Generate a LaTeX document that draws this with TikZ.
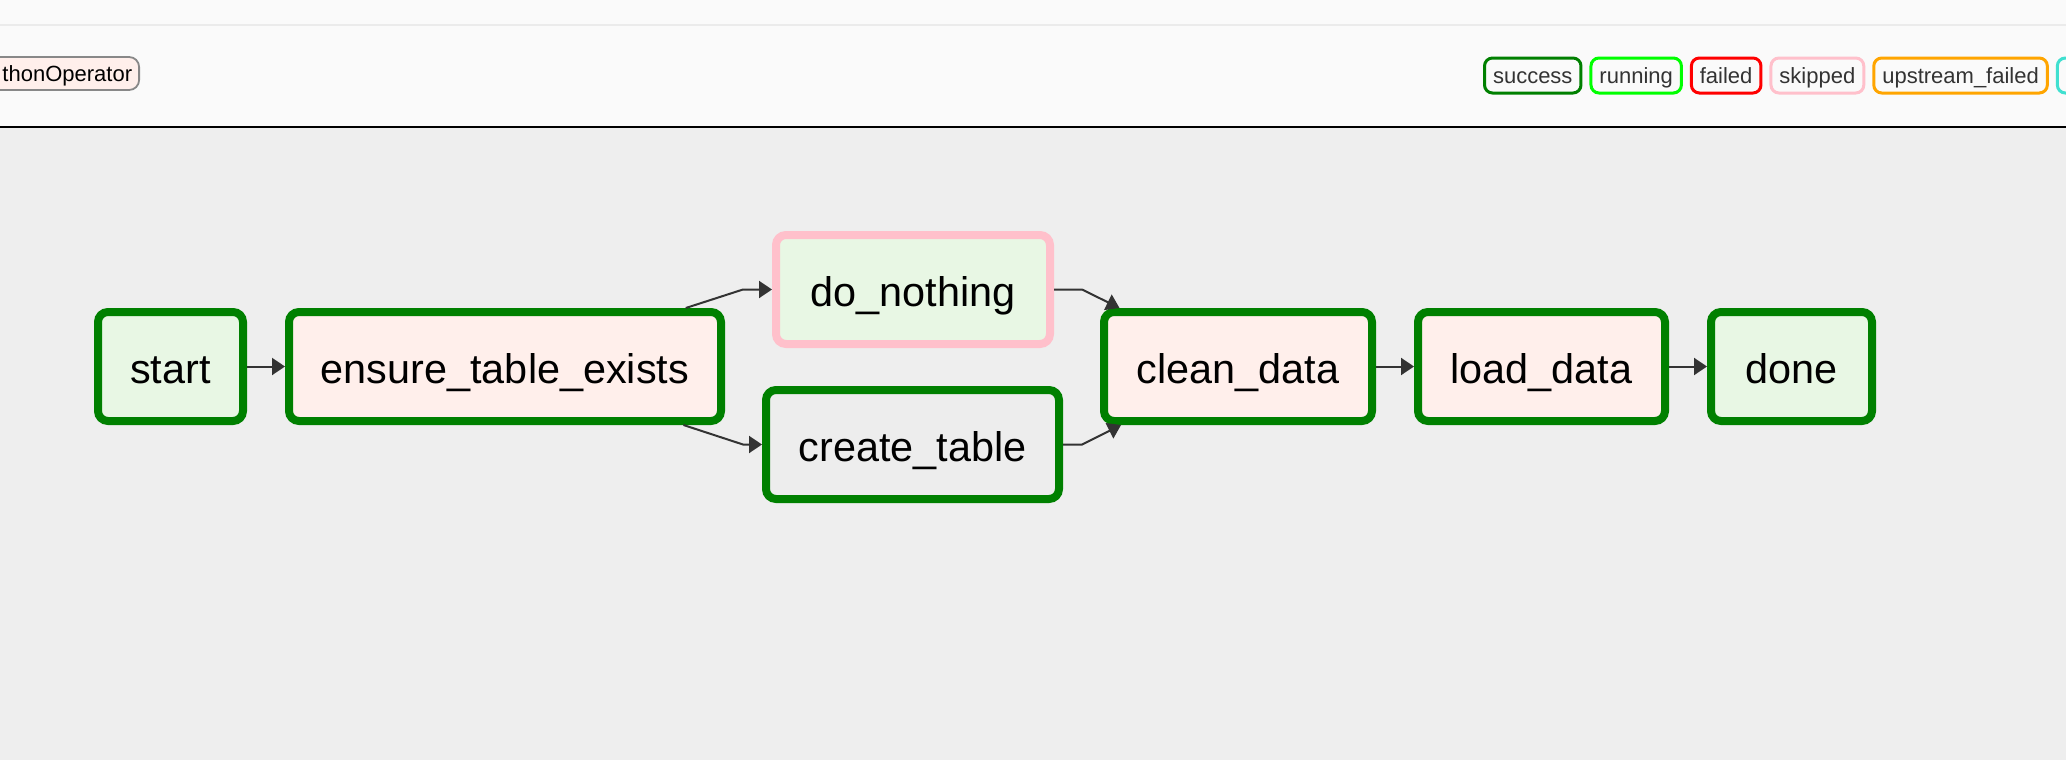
\documentclass[tikz,border=0pt]{standalone}
\usepackage{fontspec}
\setmainfont{Liberation Sans}
\usetikzlibrary{arrows.meta}
\usetikzlibrary{positioning}

\definecolor{headerbg}{HTML}{FAFAFA}
\definecolor{canvasbg}{HTML}{EEEEEE}
\definecolor{rulegray}{HTML}{EBEBEB}
\definecolor{okgreen}{HTML}{008000}
\definecolor{dummyfill}{HTML}{E8F7E4}
\definecolor{pyfill}{HTML}{FFEFEB}
\definecolor{sqlfill}{HTML}{EDEDED}
\definecolor{edgegray}{HTML}{333333}
\definecolor{legendtext}{HTML}{333333}
\definecolor{tagborder}{HTML}{888888}
\definecolor{skippedpink}{HTML}{FFC0CB}
\definecolor{runlime}{HTML}{00FF00}
\definecolor{upstreamorange}{HTML}{FFA500}
\definecolor{rescheduleturq}{HTML}{40E0D0}

\tikzset{
  task/.style={draw=okgreen, line width=4pt, rounded corners=5pt,
    minimum height=54.5pt, inner sep=0pt, text=black,
    text height=20.5pt, text depth=4pt,
    font=\fontsize{20.7}{24}\selectfont},
  dummy/.style={task, fill=dummyfill},
  python/.style={task, fill=pyfill},
  sql/.style={task, fill=sqlfill},
  state/.style={draw, line width=1.5pt, rounded corners=4pt, text=legendtext,
    minimum height=17.5pt, inner xsep=4.25pt, inner ysep=0pt,
    text height=10.5pt, text depth=2.5pt,
    font=\fontsize{11}{13}\selectfont},
  edge/.style={draw=edgegray, line width=1pt, -{Triangle[length=6.5pt,width=8.5pt]}},
}

\begin{document}
\begin{tikzpicture}[x=0.5pt, y=-0.5pt]
\useasboundingbox (0,0) rectangle (2066,760);

% header and canvas
\fill[headerbg] (0,0) rectangle (2066,127);
\fill[canvasbg] (0,127) rectangle (2066,760);
\draw[rulegray, line width=1pt] (0,25) -- (2066,25);
\draw[black, line width=1.25pt] (0,127) -- (2066,127);

% operator tag, cut by the left edge
\node (pytag) at (140,73.5) [anchor=east, draw=tagborder, line width=0.9pt,
  fill=pyfill, rounded corners=5pt, text width=100pt, align=right,
  inner xsep=3.5pt, minimum height=16.5pt, inner ysep=0pt,
  text height=10.5pt, text depth=2.5pt,
  font=\fontsize{11}{13}\selectfont] {thonOperator};

% state legend
\node (success) at (1483,75.5) [state, draw=okgreen, anchor=west] {success};
\node (running) [state, draw=runlime, right=3.5pt of success] {running};
\node (failed) [state, draw=red, right=3.5pt of running] {failed};
\node (skipped) [state, draw=skippedpink, right=3.5pt of failed] {skipped};
\node (upstream) [state, draw=upstreamorange, right=3.5pt of skipped] {upstream\_failed};
\node (reschedule) [state, draw=rescheduleturq, right=3.5pt of upstream, minimum width=40pt] {};

% tasks
\node (start) at (170.5,366.5) [dummy, minimum width=72.5pt] {start};
\node (ensure) at (505,366.5) [python, minimum width=216pt] {ensure\_table\_exists};
\node (nothing) at (913,289.5) [dummy, draw=skippedpink, minimum width=137pt] {do\_nothing};
\node (create) at (912.5,444.5) [sql, minimum width=146.5pt] {create\_table};
\node (clean) at (1238,366.5) [python, minimum width=134pt] {clean\_data};
\node (load) at (1541.5,366.5) [python, minimum width=123.5pt] {load\_data};
\node (done) at (1791.5,366.5) [dummy, minimum width=80.5pt] {done};

% bends of the branch edges
\coordinate (k1) at (743,289.5);
\coordinate (k2) at (743,444.5);
\coordinate (k3) at (1082,289.5);
\coordinate (k4) at (1082,444.5);

\draw[edge] (start) to (ensure);
\draw[edge] (ensure) -- (k1) -- (nothing);
\draw[edge] (ensure) -- (k2) -- (create);
\draw[edge] (nothing) -- (k3) -- (clean);
\draw[edge] (create) -- (k4) -- (clean);
\draw[edge] (clean) to (load);
\draw[edge] (load) to (done);
\end{tikzpicture}
\end{document}
